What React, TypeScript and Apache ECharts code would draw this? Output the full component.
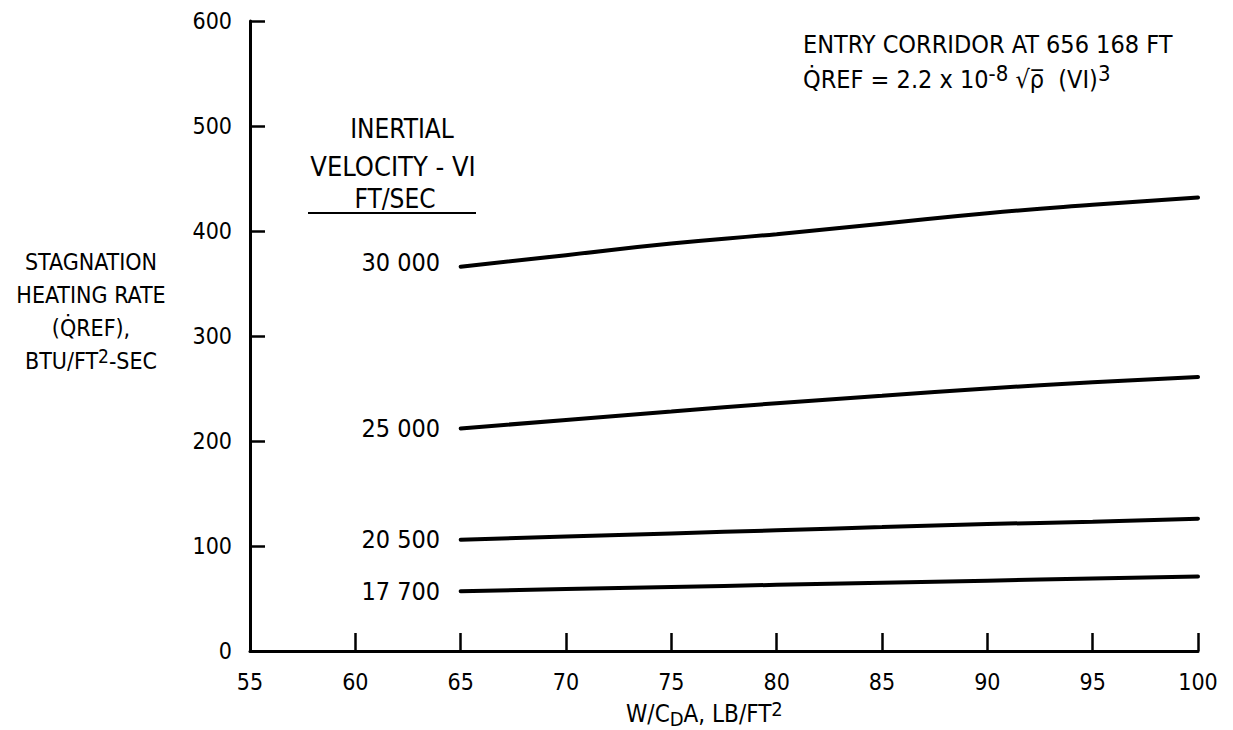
import React, { useEffect, useRef } from "react";
import * as echarts from "echarts";

// ---- data ----
const xValues = [65, 70, 75, 80, 85, 90, 95, 100];
const vel30000 = [366, 377, 388, 397, 407, 417, 425, 432];
const vel25000 = [212, 220, 228, 236, 243, 250, 256, 261];
const vel20500 = [106, 109, 112, 115, 118, 121, 123, 126];
const vel17700 = [57, 59, 61, 63, 65, 67, 69, 71];
const velocityLabels = ["30 000", "25 000", "20 500", "17 700"];
const xMin = 55, xMax = 100, xStep = 5;
const yMin = 0, yMax = 600, yStep = 100;

const FONT = "'DejaVu Sans Condensed', 'DejaVu Sans', sans-serif";

function buildSeries(values: number[], label: string, offsetY: number) {
  return {
    type: "line",
    smooth: true,
    symbol: "circle",
    symbolSize: 1,
    showSymbol: true,
    itemStyle: { color: "rgba(0,0,0,0)" },
    lineStyle: { color: "#000", width: 4, cap: "round" },
    data: values.map((v, i) =>
      i === 0
        ? {
            value: [xValues[i], v],
            label: {
              show: true,
              position: "left",
              distance: 20,
              offset: [0, offsetY],
              formatter: label,
              color: "#000",
              fontFamily: FONT,
              fontSize: 25,
            },
          }
        : [xValues[i], v]
    ),
  };
}

export default function App() {
  const ref = useRef<HTMLDivElement>(null);
  useEffect(() => {
    if (!ref.current) return;
    const chart = echarts.init(ref.current, null, { renderer: "svg" });
    const txt = (extra: any) => ({
      fill: "#000",
      fontFamily: FONT,
      fontSize: 26,
      ...extra,
    });
    chart.setOption({
      animation: false,
      backgroundColor: "#fff",
      grid: { left: 250, right: 35, top: 21, bottom: 79 },
      xAxis: {
        type: "value",
        min: xMin,
        max: xMax,
        interval: xStep,
        axisLine: { show: true, lineStyle: { color: "#000", width: 3 } },
        axisTick: { show: true, inside: true, length: 18, lineStyle: { color: "#000", width: 2.5 } },
        axisLabel: { color: "#000", fontFamily: FONT, fontSize: 23, margin: 19 },
        splitLine: { show: false },
      },
      yAxis: {
        type: "value",
        min: yMin,
        max: yMax,
        interval: yStep,
        axisLine: { show: true, lineStyle: { color: "#000", width: 3 } },
        axisTick: { show: true, inside: true, length: 15, lineStyle: { color: "#000", width: 2.5 } },
        axisLabel: { color: "#000", fontFamily: FONT, fontSize: 23, margin: 18 },
        splitLine: { show: false },
      },
      series: [
        buildSeries(vel30000, velocityLabels[0], -4),
        buildSeries(vel25000, velocityLabels[1], 0),
        buildSeries(vel20500, velocityLabels[2], 0),
        buildSeries(vel17700, velocityLabels[3], 0),
      ],
      graphic: [
        // y-axis title
        {
          type: "text",
          x: 91,
          y: 311,
          style: txt({
            text: "STAGNATION\nHEATING RATE\n(Q̇REF),\nBTU/FT{sup|2}-SEC",
            fontSize: 23,
            align: "center",
            verticalAlign: "middle",
            lineHeight: 33,
            rich: { sup: { fontFamily: FONT, fontSize: 19, padding: [0, 0, 10, 0] } },
          }),
        },
        // x-axis title
        {
          type: "text",
          x: 626,
          y: 714,
          style: txt({
            text: "W/C{sub|D}A, LB/FT{sup|2}",
            fontSize: 24,
            align: "left",
            verticalAlign: "middle",
            rich: {
              sub: { fontFamily: FONT, fontSize: 20, padding: [10, 0, 0, 0] },
              sup: { fontFamily: FONT, fontSize: 20, padding: [0, 0, 10, 0] },
            },
          }),
        },
        // legend header
        { type: "text", x: 402, y: 129, style: txt({ text: "INERTIAL", align: "center", verticalAlign: "middle" }) },
        { type: "text", x: 393, y: 166, style: txt({ text: "VELOCITY - VI", fontSize: 27, align: "center", verticalAlign: "middle" }) },
        { type: "text", x: 395, y: 199, style: txt({ text: "FT/SEC", align: "center", verticalAlign: "middle" }) },
        {
          type: "line",
          shape: { x1: 308, y1: 213, x2: 476, y2: 213 },
          style: { stroke: "#000", lineWidth: 2 },
        },
        // annotation
        {
          type: "text",
          x: 803,
          y: 44,
          style: txt({ text: "ENTRY CORRIDOR AT 656 168 FT", fontSize: 25, align: "left", verticalAlign: "middle" }),
        },
        {
          type: "text",
          x: 803,
          y: 79,
          style: txt({
            text: "Q̇REF = 2.2 x 10{sup|-8} √ρ̅  (VI){sup|3}",
            fontSize: 25,
            align: "left",
            verticalAlign: "middle",
            rich: { sup: { fontFamily: FONT, fontSize: 22, padding: [0, 0, 12, 0] } },
          }),
        },
      ],
    });
    return () => chart.dispose();
  }, []);
  return (
    <div
      ref={ref}
      style={{ position: "fixed", left: 0, top: 0, width: 1233, height: 730, background: "#fff" }}
    />
  );
}
